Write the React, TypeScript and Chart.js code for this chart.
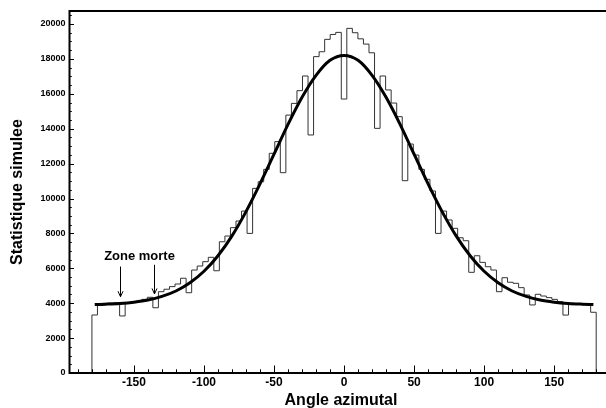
import React, { useEffect, useRef } from 'react';
import { Chart, registerables } from 'chart.js';

Chart.register(...registerables);

// Histogram range (degrees) and bin contents
const histRange = [-180, 180];
const binCounts = [
  3324, 3880, 3990, 4010, 4030, 3270, 4040, 4070, 4110, 4220,
  4340, 3740, 4660, 4800, 4950, 5100, 5430, 4600, 5900, 6130,
  6380, 6630, 5860, 7520, 7850, 8330, 8710, 9280, 8000, 10580,
  10960, 11670, 12590, 13260, 11480, 14780, 15450, 16180, 17020, 13640,
  18130, 18410, 19120, 19400, 19520, 15700, 19750, 19500, 19150, 18850,
  18350, 14020, 17020, 16220, 15470, 14690, 11020, 13120, 12490, 11670,
  11100, 10430, 8000, 9280, 8770, 8290, 7750, 7580, 5770, 6720,
  6340, 6090, 5900, 4660, 5460, 5200, 5140, 4890, 4470, 3900,
  4510, 4410, 4320, 4220, 4090, 3320, 3990, 3970, 3950, 3930,
  3480,
];

// Fitted curve
const fitAngles = [
  -178, -170, -160, -150, -140, -130, -120, -110, -100, -90, -80, -70, -60, -50, -40, -30, -20, -10,
  0, 10, 20, 30, 40, 50, 60, 70, 80, 90, 100, 110, 120, 130, 140, 150, 160, 170, 178,
];
const fitValues = [
  3925, 3945, 3985, 4060, 4180, 4390, 4700, 5170, 5830, 6720, 7860, 9250, 10840, 12540, 14250, 15800, 17060, 17920,
  18200, 17920, 17060, 15800, 14250, 12540, 10840, 9250, 7860, 6720, 5830, 5170, 4700, 4390, 4180, 4060, 3985, 3945, 3925,
];

// Axes
const xAxisRange = [-196, 187];
const yAxisRange = [0, 20745];
const xTickValues = [-150, -100, -50, 0, 50, 100, 150];
const yTickValues = [0, 2000, 4000, 6000, 8000, 10000, 12000, 14000, 16000, 18000, 20000];
const xMinorStep = 10;
const yMinorStep = 500;
const xTitle = 'Angle azimutal';
const yTitle = 'Statistique simulee';

// Annotation
const annotationText = 'Zone morte';
const annotationPos = [-146, 6480];
const arrowAngles = [-160, -136];
const arrowTops = [6100, 6200];
const arrowTips = [4370, 4530];

const FONT = "'Liberation Sans', Arial, Helvetica, sans-serif";

const framePlugin = {
  id: 'rootFrame',
  afterDatasetsDraw(chart: any) {
    const { ctx, chartArea: a } = chart;
    const x = chart.scales.x;
    const y = chart.scales.y;
    ctx.save();
    // frame / axes
    ctx.strokeStyle = '#000';
    ctx.lineWidth = 2;
    ctx.beginPath();
    ctx.moveTo(a.left - 1, a.top);
    ctx.lineTo(a.right, a.top);
    ctx.moveTo(a.left, a.top);
    ctx.lineTo(a.left, a.bottom);
    ctx.moveTo(a.left - 1, a.bottom);
    ctx.lineTo(a.right, a.bottom);
    ctx.stroke();

    // inside ticks (major from tick arrays, minor in between)
    ctx.lineWidth = 1;
    ctx.beginPath();
    const xStart = Math.ceil(x.min / xMinorStep) * xMinorStep;
    for (let v = xStart; v <= x.max; v += xMinorStep) {
      const px = Math.round(x.getPixelForValue(v)) + 0.5;
      const len = xTickValues.includes(v) ? 7.5 : 3.7;
      ctx.moveTo(px, a.bottom);
      ctx.lineTo(px, a.bottom - len);
    }
    for (let v = 0; v <= y.max; v += yMinorStep) {
      const py = Math.round(y.getPixelForValue(v)) + 0.5;
      const len = yTickValues.includes(v) ? 4.5 : 2.3;
      ctx.moveTo(a.left, py);
      ctx.lineTo(a.left + len, py);
    }
    ctx.stroke();

    // annotation text
    ctx.fillStyle = '#000';
    ctx.font = `bold 13px ${FONT}`;
    ctx.textAlign = 'center';
    ctx.textBaseline = 'alphabetic';
    ctx.fillText(annotationText, x.getPixelForValue(annotationPos[0]), y.getPixelForValue(annotationPos[1]));

    // arrows
    ctx.lineWidth = 1;
    ctx.beginPath();
    arrowAngles.forEach((ang, i) => {
      const px = Math.round(x.getPixelForValue(ang)) + 0.5;
      const top = y.getPixelForValue(arrowTops[i]);
      const tip = y.getPixelForValue(arrowTips[i]);
      ctx.moveTo(px, top);
      ctx.lineTo(px, tip);
      ctx.moveTo(px - 2.5, tip - 5.5);
      ctx.lineTo(px, tip);
      ctx.lineTo(px + 2.5, tip - 5.5);
    });
    ctx.stroke();

    // axis titles
    ctx.font = `bold 16px ${FONT}`;
    ctx.textAlign = 'center';
    ctx.textBaseline = 'alphabetic';
    ctx.fillText(xTitle, 341, 405);
    ctx.save();
    ctx.translate(22, (a.top + a.bottom) / 2);
    ctx.rotate(-Math.PI / 2);
    ctx.fillText(yTitle, 0, 0);
    ctx.restore();

    ctx.restore();
  },
};

export default function App() {
  const canvasRef = useRef<HTMLCanvasElement | null>(null);

  useEffect(() => {
    const canvas = canvasRef.current;
    if (!canvas) return;
    const width = (histRange[1] - histRange[0]) / binCounts.length;
    const histPoints: { x: number; y: number }[] = [{ x: histRange[0], y: 0 }];
    binCounts.forEach((v, i) => histPoints.push({ x: histRange[0] + i * width, y: v }));
    histPoints.push({ x: histRange[1], y: binCounts[binCounts.length - 1] });
    histPoints.push({ x: histRange[1], y: 0 });
    const fitPoints = fitAngles.map((a, i) => ({ x: a, y: fitValues[i] }));

    const chart = new Chart(canvas, {
      type: 'line',
      data: {
        datasets: [
          {
            label: 'fit',
            data: fitPoints,
            borderColor: '#000',
            borderWidth: 3,
            pointRadius: 0,
            fill: false,
            cubicInterpolationMode: 'monotone',
          },
          {
            label: 'hist',
            data: histPoints,
            borderColor: '#333',
            borderWidth: 1,
            pointRadius: 0,
            fill: false,
            stepped: true,
          },
        ],
      },
      options: {
        animation: false,
        responsive: false,
        devicePixelRatio: 1,
        layout: { padding: { left: 0, right: 0, top: 11, bottom: 0 } },
        plugins: { legend: { display: false }, tooltip: { enabled: false }, title: { display: false } },
        scales: {
          x: {
            type: 'linear',
            min: xAxisRange[0],
            max: xAxisRange[1],
            grid: { display: false, drawTicks: false },
            border: { display: false },
            afterBuildTicks: (s: any) => {
              s.ticks = xTickValues.map((v) => ({ value: v }));
            },
            ticks: {
              autoSkip: false,
              maxRotation: 0,
              padding: 2,
              color: '#000',
              font: { family: FONT, size: 12, weight: 'bold' },
              callback: (v: any) => String(v),
            },
            afterFit: (s: any) => {
              s.height = 35;
            },
          },
          y: {
            type: 'linear',
            min: yAxisRange[0],
            max: yAxisRange[1],
            grid: { display: false, drawTicks: false },
            border: { display: false },
            afterBuildTicks: (s: any) => {
              s.ticks = yTickValues.map((v) => ({ value: v }));
            },
            ticks: {
              autoSkip: false,
              padding: 4,
              color: '#000',
              font: { family: FONT, size: 9, weight: 'bold' },
              callback: (v: any) => String(v),
            },
            afterFit: (s: any) => {
              s.width = 69.5;
            },
          },
        },
      },
      plugins: [framePlugin],
    } as any);
    return () => chart.destroy();
  }, []);

  return (
    <div style={{ position: 'fixed', left: 0, top: 0, width: 606, height: 408, background: '#fff' }}>
      <canvas ref={canvasRef} width={606} height={408} style={{ display: 'block' }} />
    </div>
  );
}
